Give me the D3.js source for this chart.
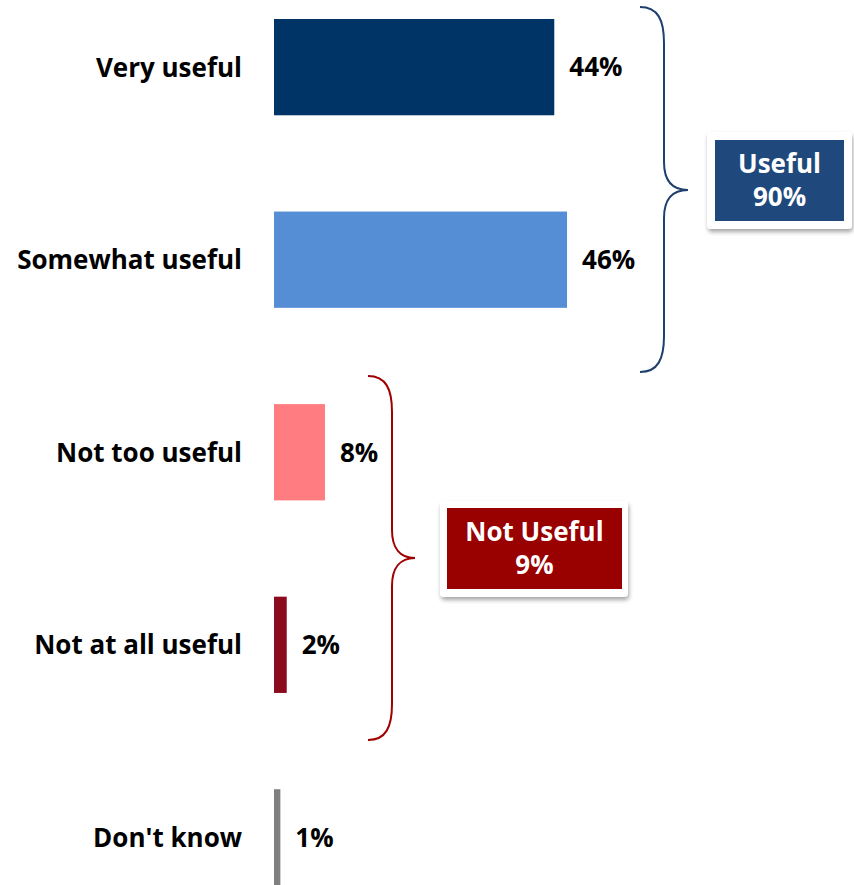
<!DOCTYPE html>
<html>
<head>
<meta charset="utf-8">
<script src="https://cdn.jsdelivr.net/npm/d3@7"></script>
<style>
  html, body { margin: 0; padding: 0; background: #ffffff; }
  svg { display: block; }
  text { font-family: "Open Sans", Lato, sans-serif; font-weight: 700; }
</style>
</head>
<body>
<svg id="chart" width="854" height="885"></svg>
<script>
// Survey responses: how useful respondents find it
const categories = ["Very useful", "Somewhat useful", "Not too useful", "Not at all useful", "Don't know"];
const values = [44, 46, 8, 2, 1];
const barColors = ["#003366", "#558ed5", "#ff7c80", "#8b0a1e", "#808080"];

// Net groupings shown with braces
const groupLabels = ["Useful", "Not Useful"];
const groupValues = [90, 9];

const svg = d3.select("#chart");

const x = d3.scaleLinear().domain([0, 100]).range([274, 274 + 637]);
const y = d3.scaleBand().domain(categories).range([19, 885.5]).paddingInner(0.5).paddingOuter(0);

// bars
svg.append("g").selectAll("rect")
  .data(categories)
  .join("rect")
  .attr("x", x(0))
  .attr("y", d => y(d))
  .attr("width", (d, i) => x(values[i]) - x(0))
  .attr("height", y.bandwidth())
  .attr("fill", (d, i) => barColors[i]);

// category labels (left axis, no line/ticks)
const axis = svg.append("g")
  .attr("transform", `translate(${x(0) - 32},0)`)
  .call(d3.axisLeft(y).tickSize(0).tickPadding(0));
axis.select(".domain").remove();
axis.selectAll("text")
  .attr("fill", "#000")
  .attr("dy", "0.36em")
  .style("font-size", "26px")
  .style("font-family", "'Open Sans', Lato, sans-serif")
  .style("font-weight", "700");

// value labels
svg.append("g").selectAll("text")
  .data(categories)
  .join("text")
  .attr("x", (d, i) => x(values[i]) + 15)
  .attr("y", d => y(d) + y.bandwidth() / 2)
  .attr("dy", "0.36em")
  .attr("fill", "#000")
  .style("font-size", "26px")
  .text((d, i) => values[i] + "%");

// drop shadow for callout boxes
const defs = svg.append("defs");
const f = defs.append("filter").attr("id", "shadow")
  .attr("x", "-20%").attr("y", "-20%").attr("width", "140%").attr("height", "150%");
f.append("feDropShadow").attr("dx", 1).attr("dy", 3).attr("stdDeviation", 2.2)
  .attr("flood-color", "#000").attr("flood-opacity", 0.35);

// brace: top end, spine x, tip, bottom end
function bracePath(x0, xs, xt, y0, ym, y1) {
  return `M${x0},${y0} C${xs - 6},${y0} ${xs},${y0 + 13} ${xs},${y0 + 36}` +
    ` L${xs},${ym - 28} C${xs},${ym - 10} ${xs + 8},${ym} ${xt},${ym}` +
    ` C${xs + 8},${ym} ${xs},${ym + 10} ${xs},${ym + 28}` +
    ` L${xs},${y1 - 36} C${xs},${y1 - 13} ${xs - 6},${y1} ${x0},${y1}`;
}

const groups = [
  { brace: [640, 664, 688, 7, 190, 372], color: "#1f3f6e",
    box: [707, 132, 145, 97], inner: [715, 140, 129, 81], fill: "#1f497d" },
  { brace: [368, 392, 415, 376, 558, 740], color: "#a00000",
    box: [440, 501, 188, 96], inner: [447, 508, 175, 81], fill: "#990000" }
];

groups.forEach((g, i) => {
  svg.append("path")
    .attr("d", bracePath(...g.brace))
    .attr("fill", "none")
    .attr("stroke", g.color)
    .attr("stroke-width", 2);

  svg.append("rect")
    .attr("x", g.box[0]).attr("y", g.box[1])
    .attr("width", g.box[2]).attr("height", g.box[3])
    .attr("rx", 4)
    .attr("fill", "#fff")
    .attr("filter", "url(#shadow)");
  svg.append("rect")
    .attr("x", g.inner[0]).attr("y", g.inner[1])
    .attr("width", g.inner[2]).attr("height", g.inner[3])
    .attr("fill", g.fill);

  const cx = g.inner[0] + g.inner[2] / 2;
  const cy = g.inner[1] + g.inner[3] / 2;
  const t = svg.append("text")
    .attr("text-anchor", "middle")
    .attr("fill", "#fff")
    .style("font-size", "26px");
  t.append("tspan").attr("x", cx).attr("y", cy - 8).text(groupLabels[i]);
  t.append("tspan").attr("x", cx).attr("y", cy + 25).text(groupValues[i] + "%");
});
</script>
</body>
</html>
